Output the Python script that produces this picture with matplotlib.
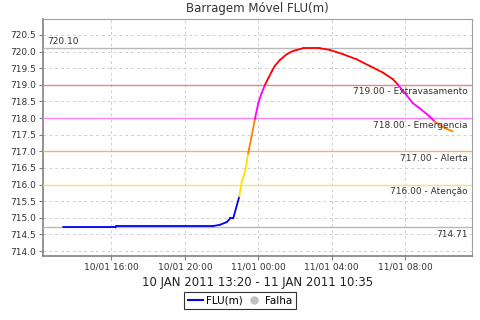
import matplotlib
matplotlib.use("Agg")
import matplotlib.pyplot as plt
import matplotlib.dates as mdates
from matplotlib.collections import LineCollection
from matplotlib.lines import Line2D
import pandas as pd
import numpy as np

plt.rcParams['font.family'] = ['DejaVu Sans']

# ---- data ----
times = [
    "2011-01-10 13:20", "2011-01-10 16:13", "2011-01-10 16:16", "2011-01-10 21:32",
    "2011-01-10 21:55", "2011-01-10 22:17", "2011-01-10 22:28", "2011-01-10 22:38",
    "2011-01-10 22:58", "2011-01-10 23:06", "2011-01-10 23:17", "2011-01-10 23:27",
    "2011-01-10 23:38", "2011-01-10 23:49", "2011-01-11 00:00", "2011-01-11 00:11",
    "2011-01-11 00:22", "2011-01-11 00:33", "2011-01-11 00:44", "2011-01-11 00:54",
    "2011-01-11 01:11", "2011-01-11 01:33", "2011-01-11 01:54", "2011-01-11 02:27",
    "2011-01-11 03:21", "2011-01-11 03:54", "2011-01-11 04:37", "2011-01-11 05:21",
    "2011-01-11 06:04", "2011-01-11 06:47", "2011-01-11 07:20", "2011-01-11 07:37",
    "2011-01-11 08:04", "2011-01-11 08:25", "2011-01-11 08:47", "2011-01-11 09:20",
    "2011-01-11 09:36", "2011-01-11 10:09", "2011-01-11 10:35",
]
levels = [
    714.71, 714.71, 714.75, 714.75,
    714.79, 714.87, 714.98, 714.98,
    715.64, 716.09, 716.39, 716.94,
    717.44, 717.97, 718.45, 718.75,
    719.00, 719.20, 719.40, 719.57,
    719.75, 719.92, 720.02, 720.10,
    720.10, 720.05, 719.92, 719.77,
    719.57, 719.37, 719.17, 719.00,
    718.70, 718.45, 718.30, 718.05,
    717.90, 717.70, 717.60,
]

thresholds = [719.0, 718.0, 717.0, 716.0]
threshold_labels = ["719.00 - Extravasamento", "718.00 - Emergencia",
                    "717.00 - Alerta", "716.00 - Atenção"]
threshold_line_colors = ["#f08080", "#ff80ff", "#f4b07a", "#f4e070"]
level_colors = ["#ff0000", "#ff00ff", "#ff8000", "#ffe000"]
base_color = "#0000ff"
max_value = 720.10
min_value = 714.71
yticks = [714.0, 714.5, 715.0, 715.5, 716.0, 716.5, 717.0, 717.5,
          718.0, 718.5, 719.0, 719.5, 720.0, 720.5]
xtick_times = ["2011-01-10 16:00", "2011-01-10 20:00", "2011-01-11 00:00",
               "2011-01-11 04:00", "2011-01-11 08:00"]
title = "Barragem Móvel FLU(m)"
xlabel = "10 JAN 2011 13:20 - 11 JAN 2011 10:35"

# ---- figure ----
fig = plt.figure(figsize=(4.8, 3.2), dpi=100)
ax = fig.add_axes([43/480, 64/320, 429/480, 237/320])

t = mdates.date2num(pd.to_datetime(times))
v = np.array(levels)

def seg_color(val):
    for th, c in zip(thresholds, level_colors):
        if val > th:
            return c
    return base_color

segs = []
cols = []
for i in range(len(t) - 1):
    segs.append([(t[i], v[i]), (t[i+1], v[i+1])])
    cols.append(seg_color(max(v[i], v[i+1])))
lc = LineCollection(segs, colors=cols, linewidths=1.3, zorder=5, capstyle='round', joinstyle='round')
ax.add_collection(lc)

span = t[-1] - t[0]
ax.set_xlim(t[0] - 0.05*span, t[-1] + 0.05*span)
ax.set_ylim(713.85, 720.98)

# threshold lines
for th, lab, c in zip(thresholds, threshold_labels, threshold_line_colors):
    ax.axhline(th, color=c, lw=1.0, zorder=3)
    ax.text(0.99, th - 0.08, lab, transform=ax.get_yaxis_transform(),
            ha='right', va='top', fontsize=6.5, color='#333333', zorder=6)

ax.axhline(max_value, color='#b8b8b8', lw=1.0, zorder=3)
ax.text(0.01, max_value + 0.08, f"{max_value:.2f}", transform=ax.get_yaxis_transform(),
        ha='left', va='bottom', fontsize=6.5, color='#333333')
ax.axhline(min_value, color='#b8b8b8', lw=1.0, zorder=3)
ax.text(0.99, min_value - 0.08, f"{min_value:.2f}", transform=ax.get_yaxis_transform(),
        ha='right', va='top', fontsize=6.5, color='#333333')

ax.set_yticks(yticks)
ax.set_yticklabels([f"{y:.1f}" for y in yticks])
ax.set_xticks(mdates.date2num(pd.to_datetime(xtick_times)))
ax.xaxis.set_major_formatter(mdates.DateFormatter("%d/%m %H:%M"))

ax.grid(True, color='#d0d0d0', ls=(0, (3, 3)), lw=0.7)
ax.set_axisbelow(True)
ax.tick_params(axis='both', labelsize=6.5, colors='#333333', length=3, width=0.8,
               color='#808080', pad=2)
for s in ['left', 'bottom']:
    ax.spines[s].set_color('#808080')
    ax.spines[s].set_linewidth(1.2)
for s in ['top', 'right']:
    ax.spines[s].set_color('#a0a0a0')
    ax.spines[s].set_linewidth(0.8)

ax.set_title(title, fontsize=8.5, color='#333333', pad=5)
ax.set_xlabel(xlabel, fontsize=8.5, color='#222222', labelpad=3)

handles = [Line2D([0], [0], color=base_color, lw=1.5),
           Line2D([0], [0], marker='o', color='none', markerfacecolor='#c0c0c0',
                  markeredgecolor='#c0c0c0', markersize=5)]
leg = fig.legend(handles, ["FLU(m)", "Falha"], loc='center', bbox_to_anchor=(0.5, 0.06),
                 ncol=2, fontsize=7.5, frameon=True, fancybox=False, handlelength=1.5,
                 handletextpad=0.3, columnspacing=0.3, borderpad=0.35, borderaxespad=0)
leg.get_frame().set_edgecolor('black')
leg.get_frame().set_linewidth(0.8)

fig.savefig("out.png", dpi=100)
